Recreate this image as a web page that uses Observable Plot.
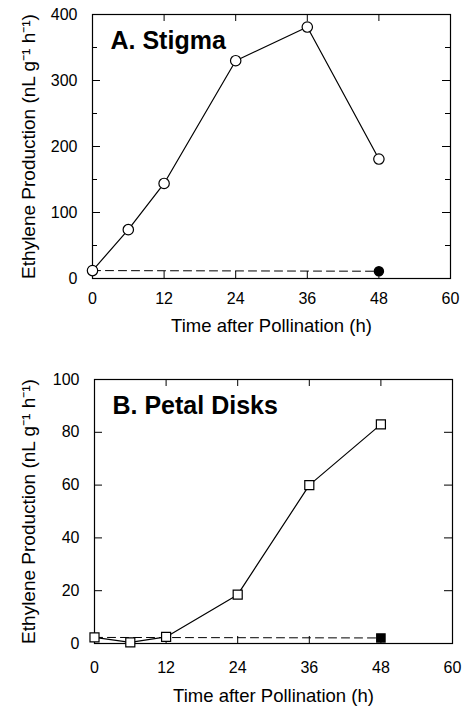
<!DOCTYPE html>
<html><head><meta charset="utf-8">
<script src="https://cdn.jsdelivr.net/npm/d3@7"></script>
<script src="https://cdn.jsdelivr.net/npm/@observablehq/plot@0.6"></script>
<style>body{margin:0;background:#fff} #c svg{display:block;background:#fff}</style>
</head><body><div id="c"></div>
<script>
// ---- data ----
const hours = [0, 6, 12, 24, 36, 48];
const stigma = [12, 74, 144, 330, 381, 181];
const controlHours = [0, 48];
const stigmaControl = [12, 11];
const petal = [2.3, 0.4, 2.5, 18.5, 60, 83];
const petalControl = [2.3, 2.1];
const xTicks = [0, 12, 24, 36, 48, 60];
const xInnerTicks = [12, 24, 36, 48];
const yTicksA = [0, 100, 200, 300, 400];
const yMinorA = [50, 150, 250, 350];
const yTicksB = [0, 20, 40, 60, 80, 100];
const yMinorB = [];
const titles = ["A. Stigma", "B. Petal Disks"];
const xLabel = "Time after Pollination (h)";
const yLabel = "Ethylene Production (nL g\u207B\u00B9 h\u207B\u00B9)";

const font = "'Liberation Sans', Arial, Helvetica, sans-serif";

function panel(o) {
  const W = o.width - o.ml - o.mr;
  const H = o.height - o.mt - o.mb;
  const main = hours.map((h, i) => ({h, v: o.values[i]}));
  const ctrl = controlHours.map((h, i) => ({h, v: o.control[i]}));
  return Plot.plot({
    width: o.width, height: o.height,
    marginTop: o.mt, marginBottom: o.mb, marginLeft: o.ml, marginRight: o.mr,
    style: {fontFamily: font, color: "black", background: "white"},
    x: {domain: [0, 60]},
    y: {domain: o.yDomain},
    marks: [
      Plot.frame({stroke: "black", strokeWidth: 1.2}),
      // inward ticks
      Plot.tickY(o.yTicks, {y: d => d, insetRight: W - 8, stroke: "black"}),
      Plot.tickY(o.yTicks, {y: d => d, insetLeft: W - 8, stroke: "black"}),
      Plot.tickY(o.yMinor, {y: d => d, insetRight: W - 5, stroke: "black"}),
      Plot.tickY(o.yMinor, {y: d => d, insetLeft: W - 5, stroke: "black"}),
      Plot.tickX(xInnerTicks, {x: d => d, insetTop: H - 7, stroke: "black"}),
      Plot.tickX(xInnerTicks, {x: d => d, insetBottom: H - 7, stroke: "black"}),
      Plot.axisX({ticks: xTicks, tickSize: 0, tickPadding: o.xPad, fontSize: 16, label: null}),
      Plot.axisY({ticks: o.yTicks, tickSize: 0, tickPadding: 15, fontSize: 16, label: null}),
      Plot.text([yLabel], {text: d => d, frameAnchor: "left", rotate: -90, dx: o.ylx, fontSize: 19, textAnchor: "middle", lineAnchor: "middle", fill: "black"}),
      Plot.text([xLabel], {text: d => d, frameAnchor: "bottom", dy: o.xly, fontSize: 18.5, textAnchor: "middle", lineAnchor: "middle", fill: "black"}),
      Plot.text([o.title], {text: d => d, frameAnchor: "top-left", dx: 18, dy: 26, fontSize: 25, fontWeight: "bold", textAnchor: "start", lineAnchor: "middle", fill: "black"}),
      Plot.line(ctrl, {x: "h", y: "v", stroke: "black", strokeWidth: 1, strokeDasharray: "8,5"}),
      Plot.line(main, {x: "h", y: "v", stroke: "black", strokeWidth: 1.2}),
      Plot.dot(main, {x: "h", y: "v", r: o.r, symbol: o.symbol, fill: "white", stroke: "black", strokeWidth: 1.2}),
      Plot.dot(ctrl.slice(1), {x: "h", y: "v", r: o.rf, symbol: o.symbol, fill: "black", stroke: "black"})
    ]
  });
}

const c = document.getElementById("c");
c.append(panel({
  width: 464, height: 345, mt: 14, mb: 67, ml: 92, mr: 14,
  values: stigma, control: stigmaControl, yDomain: [0, 400],
  yTicks: yTicksA, yMinor: yMinorA, title: titles[0],
  symbol: "circle", r: 5.2, rf: 4.5, xPad: 14, xly: 48, ylx: -64
}));
c.append(panel({
  width: 464, height: 362, mt: 34, mb: 64, ml: 94, mr: 12,
  values: petal, control: petalControl, yDomain: [0, 100],
  yTicks: yTicksB, yMinor: yMinorB, title: titles[1],
  symbol: "square", r: 5.1, rf: 4.6, xPad: 18, xly: 53, ylx: -66
}));
</script>
</body></html>
